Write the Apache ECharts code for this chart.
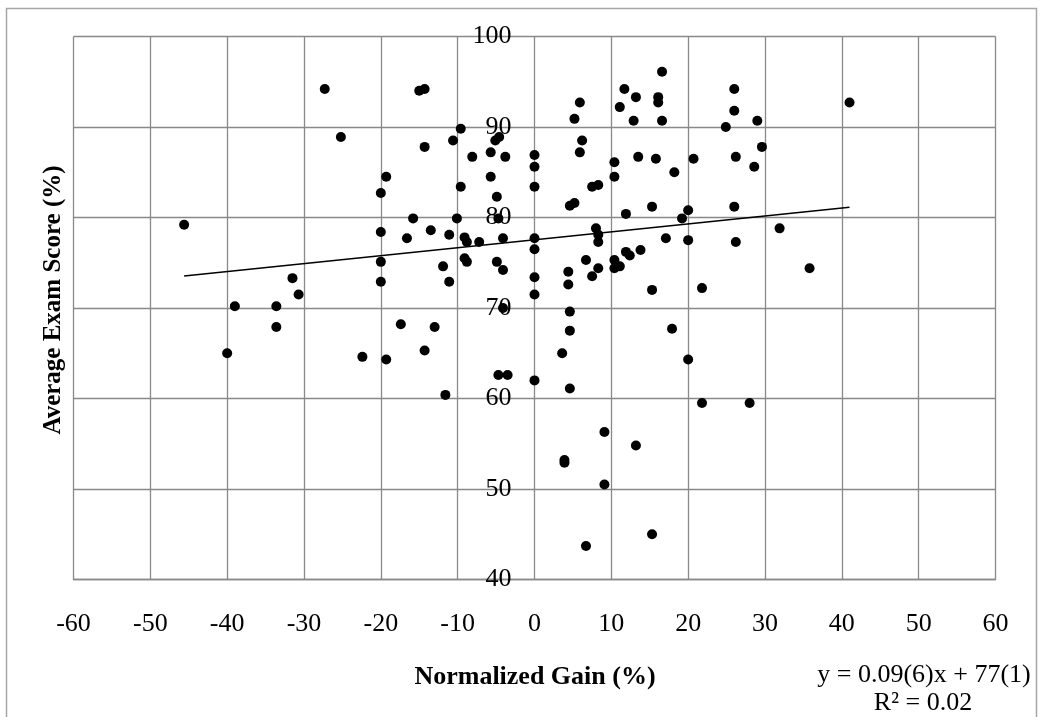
<!DOCTYPE html>
<html>
<head>
<meta charset="utf-8">
<script src="https://cdn.jsdelivr.net/npm/echarts@6/dist/echarts.min.js"></script>
<style>
  html, body { margin: 0; padding: 0; background: #fff; }
  #main { width: 1040px; height: 717px; }
</style>
</head>
<body>
<div id="main"></div>
<script>
// normalized gain (%) for each class
var gainX = [
  -45.6, -27.3, -15.0, -14.3, -25.2, -14.3, -9.6, -10.6, -8.1, -5.7,
  -5.1, -4.6, -3.8, 0, 0, 0, -19.3, -20.0, -9.6, -5.7,
  -4.9, -15.8, -10.1, -4.7, -20.0, -16.6, -13.5, -11.1, -9.1, -8.8,
  -7.2, -4.1, 0, 0, -20.0, -20.0, -11.9, -11.1, -9.1, -8.8,
  -4.9, -4.1, 0, 0, -31.5, -30.7, -39.0, -33.6, -33.6, -17.4,
  -13.0, -4.1, -40.0, -22.4, -19.3, -14.3, -4.7, -3.5, 0, -11.6,
  16.6, 11.7, 13.2, 16.1, 16.1, 5.9, 11.1, 5.2, 12.9, 16.6,
  26.0, 26.0, 29.0, 24.9, 41.0, 29.6, 6.2, 5.9, 10.4, 13.5,
  15.8, 20.7, 26.2, 28.6, 18.2, 10.4, 7.5, 8.3, 4.6, 5.2,
  15.3, 26.0, 11.9, 20.0, 19.2, 8.0, 8.3, 8.3, 31.9, 17.1,
  20.0, 26.2, 13.8, 11.9, 12.4, 6.7, 10.4, 10.4, 11.1, 8.3,
  4.4, 7.5, 4.4, 15.3, 21.8, 35.8, 4.6, 4.6, 17.9, 3.6,
  4.6, 20.0, 21.8, 28.0, 9.1, 13.2, 3.9, 3.9, 9.1, 15.3,
  6.7
];
// average exam score (%) for the same classes
var scoreY = [
  79.2, 94.2, 94.0, 94.2, 88.9, 87.8, 89.8, 88.5, 86.7, 87.2,
  88.5, 88.9, 86.7, 86.9, 85.6, 83.4, 84.5, 82.7, 83.4, 84.5,
  82.3, 79.9, 79.9, 79.9, 78.4, 77.7, 78.6, 78.1, 77.8, 77.3,
  77.3, 77.7, 77.7, 76.5, 75.1, 72.9, 74.6, 72.9, 75.5, 75.1,
  75.1, 74.2, 73.4, 71.5, 73.3, 71.5, 70.2, 70.2, 67.9, 68.2,
  67.9, 70.0, 65.0, 64.6, 64.3, 65.3, 62.6, 62.6, 62.0, 60.4,
  96.1, 94.2, 93.3, 93.3, 92.7, 92.7, 92.2, 90.9, 90.7, 90.7,
  94.2, 91.8, 90.7, 90.0, 92.7, 87.8, 88.5, 87.2, 86.1, 86.7,
  86.5, 86.5, 86.7, 85.6, 85.0, 84.5, 83.4, 83.6, 81.3, 81.6,
  81.2, 81.2, 80.4, 80.8, 79.9, 78.8, 78.1, 77.3, 78.8, 77.7,
  77.5, 77.3, 76.4, 76.2, 75.8, 75.3, 75.3, 74.4, 74.6, 74.4,
  74.0, 73.5, 72.6, 72.0, 72.2, 74.4, 69.6, 67.5, 67.7, 65.0,
  61.1, 64.3, 59.5, 59.5, 56.3, 54.8, 53.2, 52.9, 50.5, 45.0,
  43.7
];

var fitText = ['y = 0.09(6)x + 77(1)', 'R² = 0.02'];

var points = gainX.map(function (x, i) { return [x, scoreY[i]]; });

// least squares trendline over the data range
var n = gainX.length, sx = 0, sy = 0, sxx = 0, sxy = 0;
for (var i = 0; i < n; i++) {
  sx += gainX[i]; sy += scoreY[i];
  sxx += gainX[i] * gainX[i]; sxy += gainX[i] * scoreY[i];
}
var slope = (n * sxy - sx * sy) / (n * sxx - sx * sx);
var icpt = (sy - slope * sx) / n;
var xMin = Math.min.apply(null, gainX), xMax = Math.max.apply(null, gainX);
var trend = [[xMin, icpt + slope * xMin], [xMax, icpt + slope * xMax]];

var serif = '"Liberation Serif", "Times New Roman", serif';
var gridGray = '#898989';
var plotLeft = 73.5, plotRight = 44.5;
// y axis sits on x = 0, which is the middle of the symmetric x range
var yAxisShift = (1040 - plotLeft - plotRight) / 2;

var chart = echarts.init(document.getElementById('main'));
chart.setOption({
  animation: false,
  grid: { left: plotLeft, right: plotRight, top: 36.5, bottom: 137.5 },
  xAxis: {
    type: 'value', min: -60, max: 60, interval: 10,
    axisLine: { show: true, onZero: false, lineStyle: { color: gridGray, width: 1.3 } },
    axisTick: { show: false },
    axisLabel: { margin: 32, fontFamily: serif, fontSize: 26, color: '#000' },
    splitLine: { lineStyle: { color: gridGray, width: 1.3 } }
  },
  yAxis: {
    type: 'value', min: 40, max: 100, interval: 10,
    position: 'left',
    offset: -yAxisShift,
    axisLine: { show: false, onZero: false },
    axisTick: { show: false },
    axisLabel: { margin: 23, fontFamily: serif, fontSize: 26, color: '#000' },
    splitLine: { lineStyle: { color: gridGray, width: 1.3 } }
  },
  graphic: [
    { type: 'rect', shape: { x: 6.5, y: 8.5, width: 1030, height: 720 },
      style: { fill: null, stroke: '#a6a6a6', lineWidth: 1.5 }, silent: true },
    { type: 'text', x: 535, y: 677,
      style: { text: 'Normalized Gain (%)', align: 'center', verticalAlign: 'middle',
               fontFamily: serif, fontSize: 26, fontWeight: 'bold', fill: '#000' } },
    { type: 'text', x: 54, y: 300, rotation: Math.PI / 2,
      style: { text: 'Average Exam Score (%)', align: 'center', verticalAlign: 'middle',
               fontFamily: serif, fontSize: 25, fontWeight: 'bold', fill: '#000' } },
    { type: 'text', x: 924, y: 675,
      style: { text: fitText[0], align: 'center', verticalAlign: 'middle',
               fontFamily: serif, fontSize: 26, fill: '#000' } },
    { type: 'text', x: 923, y: 703,
      style: { text: fitText[1], align: 'center', verticalAlign: 'middle',
               fontFamily: serif, fontSize: 26, fill: '#000' } }
  ],
  series: [
    {
      type: 'scatter',
      data: points,
      symbolSize: 10,
      itemStyle: { color: '#000', opacity: 1 }
    },
    {
      type: 'line',
      data: trend,
      showSymbol: false,
      silent: true,
      lineStyle: { color: '#000', width: 1.5 }
    }
  ]
});
</script>
</body>
</html>
